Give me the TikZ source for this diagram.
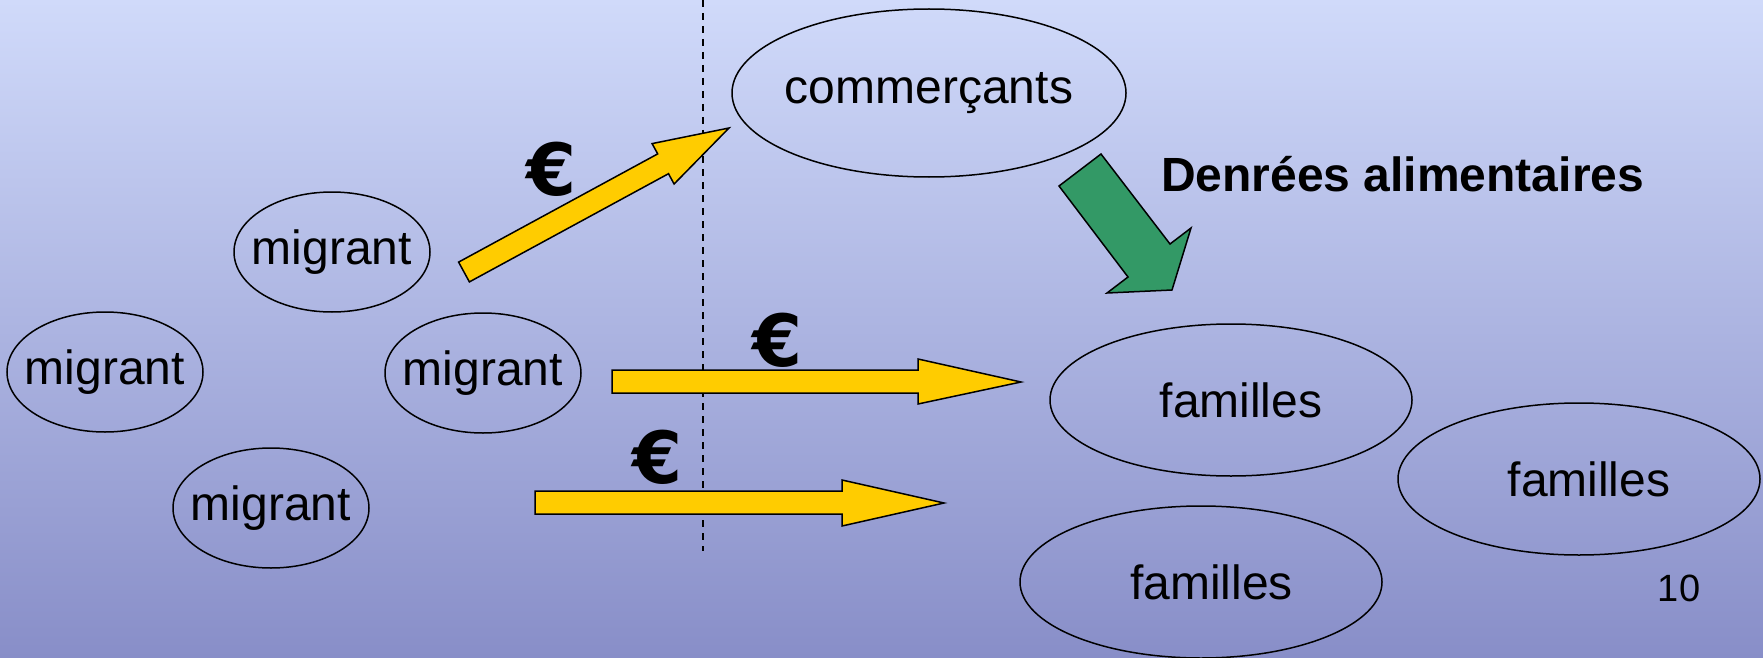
\documentclass[tikz,border=0pt]{standalone}
\usepackage{fontspec}
\setmainfont{Liberation Sans}
\newfontfamily\eurofont{DejaVu Sans}
\usetikzlibrary{shapes.geometric}
\definecolor{bgtop}{RGB}{208,218,250}
\definecolor{bgbot}{RGB}{136,142,200}
\definecolor{flowyellow}{RGB}{255,204,0}
\definecolor{flowgreen}{RGB}{51,153,102}
\newcommand{\zw}[1]{\makebox[0pt]{#1}}
\tikzset{
  ell/.style={draw=black, line width=1.5pt, ellipse, inner sep=0pt, font=\fontsize{48}{48}\selectfont},
  mig/.style={ell, minimum width=196pt, minimum height=120pt},
  fam/.style={ell, minimum width=362pt, minimum height=152pt},
  blockarrow/.style={draw=black, line width=1.5pt, line join=miter},
  euro/.style={font=\fontsize{72}{72}\eurofont\bfseries\selectfont, inner sep=0pt},
  lbl/.style={font=\fontsize{48}{48}\bfseries\selectfont, inner sep=0pt, anchor=west},
}
\begin{document}
\begin{tikzpicture}[x=1pt, y=-1pt]
\useasboundingbox (0,0) rectangle (1763,658);
\shade[top color=bgtop, bottom color=bgbot] (0,0) rectangle (1763,658);

% dashed border line
\coordinate (dtop) at (703,0);
\coordinate (dbot) at (703,551);
\draw[dashed, line width=1.5pt, dash pattern=on 7pt off 6pt] (dtop) -- (dbot);

% ellipses
\node[mig] (m1) at (332,252) {\zw{migrant}};
\node[mig] (m2) at (105,372) {\zw{migrant}};
\node[mig] (m3) at (483,373) {\zw{migrant}};
\node[mig] (m4) at (271,508) {\zw{migrant}};
\node[ell, minimum width=394pt, minimum height=168pt] (com) at (929,93) {\zw{commerçants}};
\node[fam] (f1) at (1231,400) {\zw{\hspace{20pt}familles}};
\node[fam] (f2) at (1579,479) {\zw{\hspace{20pt}familles}};
\node[fam] (f3) at (1201,582) {\zw{\hspace{21pt}familles}};

% yellow arrows
\draw[blockarrow, fill=flowyellow] (469.4,281.9) -- (458.6,262.1) -- (657.7,153.9) -- (652.1,143.6) -- (729,128) -- (674.1,184.0) -- (668.5,173.7) -- cycle;
\draw[blockarrow, fill=flowyellow] (612,370) -- (918,370) -- (918,359) -- (1021,382) -- (918,404) -- (918,393) -- (612,393) -- cycle;
\draw[blockarrow, fill=flowyellow] (535,491) -- (842,491) -- (842,480) -- (944,503) -- (842,526) -- (842,514) -- (535,514) -- cycle;

% green arrow
\draw[blockarrow, fill=flowgreen] (1059,186) -- (1101,154) -- (1170,244) -- (1191,228) -- (1172,290) -- (1107,293) -- (1128,277) -- cycle;

% labels
\node[euro] (e1) at (552,169) {€};
\node[euro] (e2) at (778,340) {€};
\node[euro] (e3) at (658,457) {€};
\node[lbl] (den) at (1161,174) {Denrées alimentaires};
\node[font=\fontsize{38}{38}\selectfont, inner sep=0pt] (pg) at (1679,588) {10};
\end{tikzpicture}
\end{document}
